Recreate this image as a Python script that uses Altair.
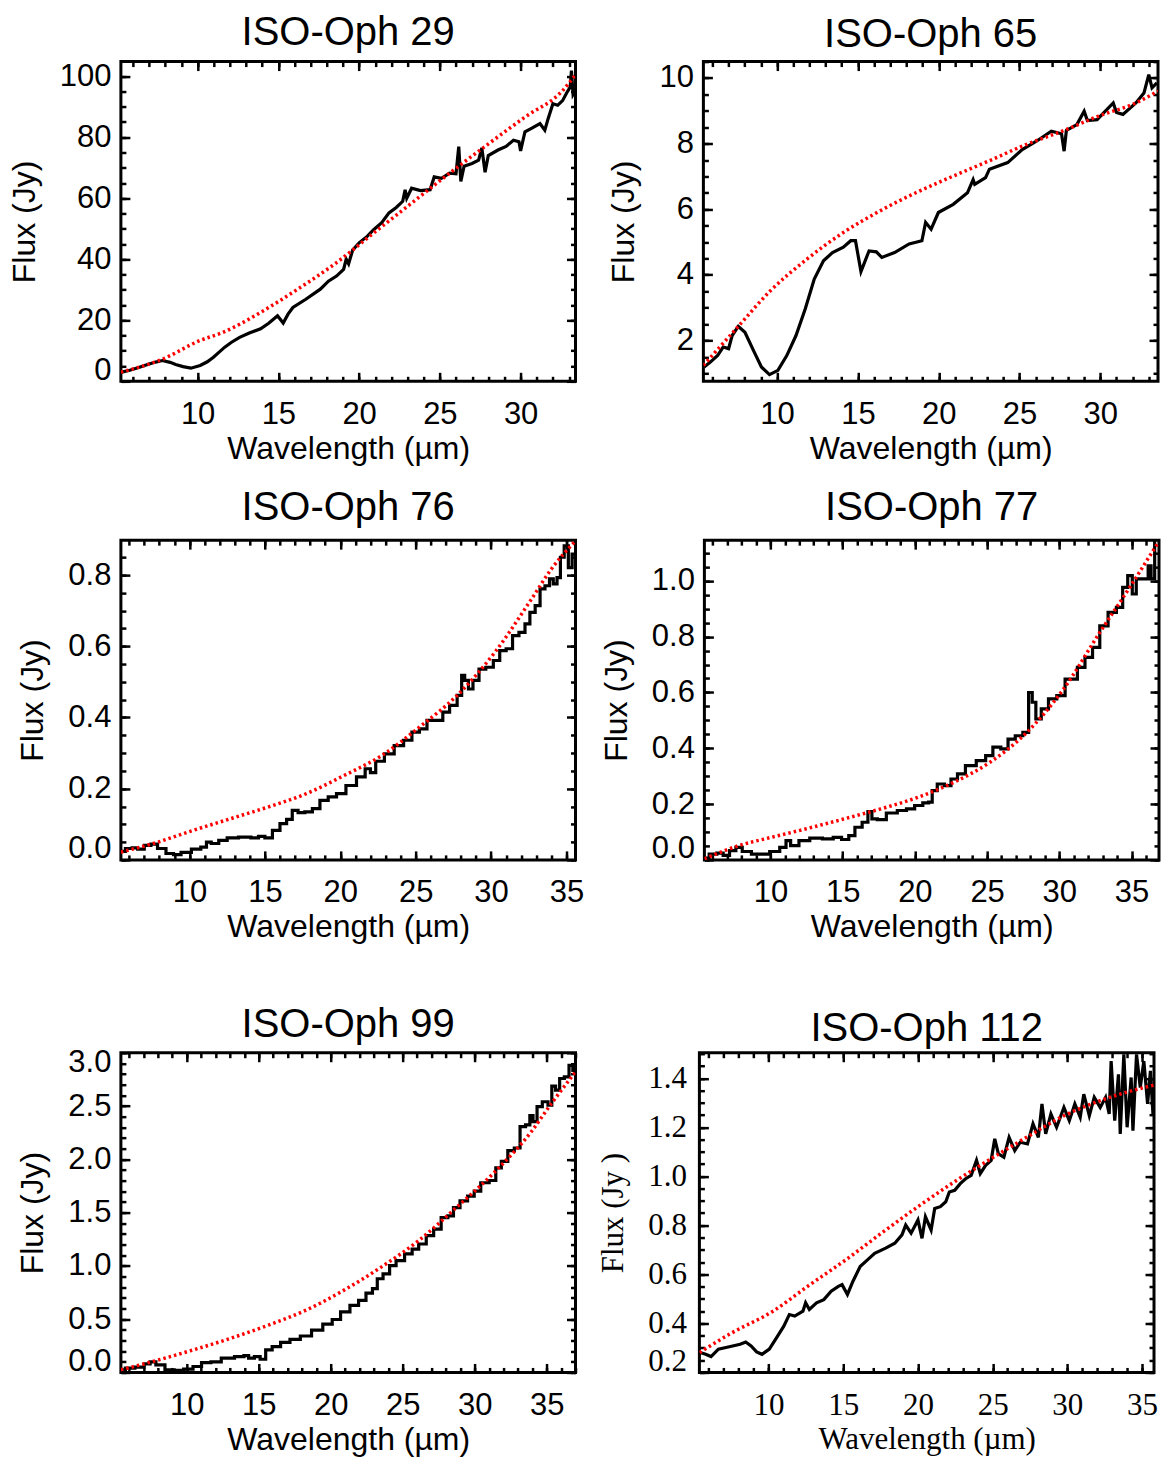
import altair as alt
import pandas as pd

SANS = "Liberation Sans"
SERIF = "Liberation Serif"

# ---------------- ISO-Oph 29 ----------------
oph29_wave = [5.30, 5.8, 6.4, 6.9, 7.4, 7.82, 8.3, 8.64, 9.1, 9.58, 10.16, 10.6, 10.98, 11.3, 11.68,
              12.1, 12.6, 13.2, 13.9, 14.4, 14.84, 14.95, 15.3, 15.6, 15.9, 16.7, 17.6, 18.1, 18.6,
              19.04, 19.2, 19.35, 19.6, 20.0, 20.5, 20.9, 21.4, 21.85, 22.3, 22.7, 22.85, 22.95,
              23.25, 23.8, 24.4, 24.65, 25.1, 25.6, 26.0, 26.17, 26.3, 26.5, 26.99, 27.4, 27.6,
              27.8, 28.0, 28.6, 29.1, 29.56, 29.9, 30.0, 30.27, 30.7, 31.2, 31.5, 31.7, 32.0,
              32.3, 32.6, 32.85, 33.07, 33.15, 33.25, 33.4]
oph29_flux = [3.0, 3.6, 4.6, 5.5, 6.3, 6.8, 6.2, 5.5, 4.8, 4.3, 5.2, 6.4, 7.9, 9.4, 11.2,
              12.8, 14.4, 15.8, 17.2, 19.0, 21.0, 21.5, 19.1, 22.0, 24.2, 26.9, 30.2, 32.8, 34.5,
              36.7, 40.0, 38.5, 43.0, 45.4, 47.5, 49.7, 52.0, 55.2, 57.0, 59.0, 62.8, 60.0,
              63.3, 62.5, 62.8, 67.0, 66.5, 68.2, 68.0, 76.9, 65.5, 70.5, 71.4, 72.5, 76.5,
              68.5, 74.0, 75.8, 77.0, 79.0, 78.5, 75.5, 81.8, 83.0, 84.5, 82.3, 86.0, 91.0,
              90.5, 92.0, 94.5, 96.4, 101.8, 94.0, 95.3]
oph29_cont_wave = [5.25, 7.8, 10.16, 11.6, 13.9, 16.2, 18.6, 20.9, 23.25, 25.6, 27.9, 30.27, 32.6, 33.4]
oph29_cont_flux = [3.0, 7.2, 13.4, 16.1, 22.6, 30.2, 38.9, 48.6, 58.4, 68.2, 77.4, 86.6, 95.3, 100.5]

# ---------------- ISO-Oph 65 ----------------
oph65_wave = [5.49, 5.87, 6.32, 6.66, 7.0, 7.22, 7.6, 8.01, 8.58, 9.03, 9.53, 10.05, 10.6, 11.17,
              11.74, 12.3, 12.87, 13.43, 14.1, 14.56, 14.85, 15.19, 15.69, 16.14, 16.48, 17.27,
              18.17, 18.96, 19.19, 19.53, 19.98, 20.9, 21.78, 22.13, 22.23, 22.9, 23.14, 24.27,
              25.17, 26.07, 26.97, 27.6, 27.76, 27.9, 28.55, 29.0, 29.2, 29.8, 30.8, 31.0, 31.4,
              32.2, 32.7, 33.0, 33.2, 33.5]
oph65_flux = [1.19, 1.34, 1.54, 1.80, 1.75, 2.15, 2.43, 2.25, 1.65, 1.19, 0.96, 1.09, 1.54, 2.15,
              2.96, 3.87, 4.43, 4.68, 4.84, 5.04, 5.04, 4.10, 4.73, 4.70, 4.53, 4.68,
              4.94, 5.04, 5.60, 5.39, 5.90, 6.15, 6.50, 6.90, 6.76, 6.96, 7.22, 7.42,
              7.82, 8.08, 8.38, 8.30, 7.77, 8.40, 8.58, 8.99, 8.70, 8.73, 9.24, 8.95, 8.89,
              9.24, 9.54, 10.10, 9.70, 9.85]
oph65_cont_wave = [5.44, 7.6, 9.6, 11.85, 14.1, 16.37, 18.62, 20.9, 23.1, 25.4, 27.65, 29.9, 32.2, 33.57]
oph65_cont_flux = [1.24, 2.43, 3.52, 4.48, 5.29, 5.95, 6.51, 7.01, 7.47, 7.97, 8.38, 8.84, 9.24, 9.60]

# ---------------- ISO-Oph 76 ----------------
oph76_wave = [5.5, 6.0, 6.38, 6.75, 7.25, 7.63, 8.13, 8.75, 9.13, 9.75, 10.5, 11.0, 11.25, 11.63,
              12.25, 12.75, 13.75, 14.4, 14.75, 15.25, 15.75, 16.25, 16.63, 17.0, 17.4, 17.9,
              18.4, 18.9, 19.5, 20.0, 20.75, 21.4, 21.9, 22.1, 22.6, 23.25, 23.9, 24.5, 25.0,
              25.5, 26.0, 26.6, 27.0, 27.5, 28.0, 28.1, 28.4, 28.6, 29.0, 29.4, 29.9, 30.4,
              30.75, 31.25, 31.6, 32.1, 32.4, 32.75, 33.1, 33.4, 33.75, 34.0, 34.25, 34.5,
              34.7, 35.0, 35.25, 35.5]
oph76_flux = [0.024, 0.032, 0.034, 0.030, 0.041, 0.044, 0.032, 0.018, 0.015, 0.021, 0.030, 0.036,
              0.050, 0.046, 0.055, 0.062, 0.064, 0.062, 0.066, 0.062, 0.083, 0.102, 0.114, 0.139,
              0.133, 0.135, 0.144, 0.167, 0.177, 0.186, 0.209, 0.233, 0.256, 0.245, 0.277, 0.298,
              0.321, 0.336, 0.359, 0.368, 0.392, 0.392, 0.415, 0.434, 0.462, 0.518, 0.504, 0.480,
              0.504, 0.536, 0.541, 0.560, 0.588, 0.593, 0.630, 0.639, 0.663, 0.695, 0.714, 0.761,
              0.770, 0.789, 0.775, 0.793, 0.850, 0.882, 0.821, 0.859]
oph76_cont_wave = [5.45, 7.6, 10.25, 12.75, 15.25, 17.75, 20.25, 22.75, 25.25, 27.75, 30.25, 32.75, 34.0, 35.6]
oph76_cont_flux = [0.022, 0.046, 0.083, 0.116, 0.149, 0.186, 0.237, 0.293, 0.373, 0.462, 0.583, 0.737, 0.817, 0.896]

# ---------------- ISO-Oph 77 ----------------
oph77_wave = [5.48, 6.04, 6.54, 6.92, 7.42, 7.8, 8.3, 9.07, 9.57, 10.33, 10.96, 11.2, 11.6, 12.35,
              13.1, 14.1, 14.6, 15.25, 15.6, 16.1, 16.6, 16.9, 17.15, 17.65, 18.4, 19.17, 19.67,
              20.3, 20.8, 21.1, 21.3, 21.8, 22.3, 22.7, 23.2, 23.8, 24.7, 25.1, 25.7, 26.2, 26.7,
              27.2, 27.75, 28.0, 28.25, 28.5, 29.0, 29.5, 30.15, 30.65, 31.0, 31.5, 32.05, 32.55,
              33.05, 33.7, 34.2, 34.57, 34.9, 35.2, 35.45, 36.1, 36.2, 36.5, 36.7]
oph77_flux = [0.006, 0.021, 0.024, 0.016, 0.033, 0.045, 0.030, 0.021, 0.021, 0.030, 0.045, 0.069,
              0.051, 0.069, 0.078, 0.075, 0.081, 0.073, 0.087, 0.117, 0.135, 0.173, 0.147, 0.144,
              0.168, 0.177, 0.183, 0.195, 0.204, 0.207, 0.248, 0.272, 0.266, 0.290, 0.308, 0.338,
              0.356, 0.374, 0.404, 0.398, 0.433, 0.445, 0.457, 0.600, 0.565, 0.505, 0.541, 0.577,
              0.589, 0.648, 0.648, 0.690, 0.726, 0.762, 0.839, 0.887, 0.905, 0.977, 1.019, 0.953,
              1.007, 1.007, 1.054, 1.007, 1.138]
oph77_cont_wave = [5.43, 7.8, 10.08, 12.6, 15.1, 17.65, 20.2, 22.7, 25.2, 27.75, 30.3, 32.8, 34.8, 36.85]
oph77_cont_flux = [0.004, 0.051, 0.081, 0.113, 0.147, 0.183, 0.224, 0.278, 0.350, 0.457, 0.613, 0.815, 0.971, 1.138]

# ---------------- ISO-Oph 99 ----------------
oph99_wave = [5.48, 6.0, 6.8, 7.3, 7.62, 8.1, 8.88, 9.4, 10.18, 10.7, 11.36, 12.0, 12.8, 13.84,
              14.1, 14.5, 14.9, 15.3, 15.67, 16.2, 16.84, 17.5, 18.28, 19.06, 19.84, 20.37, 21.0,
              21.67, 22.2, 22.7, 23.1, 23.37, 23.9, 24.28, 24.8, 25.46, 25.85, 26.37, 26.9, 27.4,
              27.94, 28.33, 28.72, 29.24, 29.77, 30.16, 30.68, 31.33, 31.6, 32.1, 32.5, 33.0,
              33.3, 33.76, 33.9, 34.2, 34.46, 34.93, 35.25, 35.46, 35.77, 36.03, 36.42, 36.68, 36.95]
oph99_flux = [0.025, 0.04, 0.05, 0.081, 0.10, 0.071, 0.025, 0.019, 0.031, 0.056, 0.093, 0.10, 0.134,
              0.149, 0.158, 0.134, 0.149, 0.124, 0.211, 0.242, 0.283, 0.311, 0.342, 0.398, 0.453,
              0.497, 0.568, 0.630, 0.677, 0.745, 0.786, 0.879, 0.925, 1.003, 1.050, 1.112, 1.158,
              1.205, 1.283, 1.345, 1.453, 1.469, 1.547, 1.609, 1.655, 1.702, 1.780, 1.801, 1.919,
              1.981, 2.081, 2.106, 2.307, 2.323, 2.41, 2.354, 2.494, 2.540, 2.509, 2.686, 2.649,
              2.758, 2.773, 2.882, 2.835]
oph99_cont_wave = [5.43, 7.57, 10.44, 13.05, 15.67, 18.28, 20.9, 23.5, 26.1, 28.72, 31.33, 33.94, 35.25, 37.0]
oph99_cont_flux = [0.025, 0.10, 0.211, 0.32, 0.444, 0.584, 0.77, 0.988, 1.236, 1.547, 1.873, 2.261, 2.509, 2.82]

# ---------------- ISO-Oph 112 ----------------
oph112_wave = [5.42, 5.79, 6.15, 6.64, 7.37, 8.1, 8.47, 8.83, 9.2, 9.56, 10.05, 10.54, 11.02, 11.39,
               11.75, 12.3, 12.48, 12.73, 13.21, 13.7, 14.19, 14.67, 14.92, 15.28, 15.65, 16.13,
               16.62, 17.1, 17.84, 18.45, 18.93, 19.18, 19.54, 20.0, 20.27, 20.5, 20.88, 21.12,
               21.5, 21.86, 22.1, 22.46, 22.83, 23.19, 23.56, 23.92, 24.17, 24.53, 24.9, 25.14,
               25.38, 25.75, 26.1, 26.48, 26.85, 27.33, 27.7, 28.06, 28.3, 28.55, 28.9, 29.28,
               29.77, 30.13, 30.5, 30.86, 31.1, 31.47, 31.8, 32.2, 32.56, 32.8, 32.93, 33.17,
               33.42, 33.54, 33.78, 34.0, 34.27, 34.39, 34.63, 34.88, 35.12, 35.37, 35.56, 35.73]
oph112_flux = [0.281, 0.274, 0.265, 0.295, 0.305, 0.315, 0.324, 0.308, 0.284, 0.274, 0.295, 0.342,
               0.389, 0.436, 0.430, 0.450, 0.484, 0.457, 0.484, 0.497, 0.531, 0.551, 0.558, 0.518,
               0.572, 0.632, 0.659, 0.686, 0.707, 0.727, 0.761, 0.801, 0.768, 0.822, 0.747, 0.835,
               0.781, 0.869, 0.876, 0.896, 0.936, 0.943, 0.970, 0.990, 1.004, 1.065, 1.011, 1.045,
               1.065, 1.153, 1.092, 1.078, 1.159, 1.105, 1.139, 1.132, 1.214, 1.159, 1.295, 1.173,
               1.254, 1.200, 1.281, 1.227, 1.295, 1.241, 1.335, 1.247, 1.322, 1.281, 1.322, 1.254,
               1.470, 1.227, 1.416, 1.173, 1.497, 1.200, 1.403, 1.186, 1.497, 1.362, 1.470, 1.295,
               1.430, 1.254]
oph112_cont_wave = [5.37, 7.5, 10.3, 12.7, 15.16, 17.6, 20.0, 22.5, 24.9, 27.3, 29.77, 32.5, 35.8]
oph112_cont_flux = [0.281, 0.36, 0.45, 0.555, 0.659, 0.77, 0.876, 0.98, 1.072, 1.16, 1.247, 1.315, 1.372]

XMAJ_A = [10, 15, 20, 25, 30]
XMAJ_B = [10, 15, 20, 25, 30, 35]
XMIN = list(range(5, 38))


def axis(orient, values, size, labels=False, fmt=None, font=SANS, lsize=31, tsize=32,
         lpad=10, tpad=18, flush=False):
    kw = dict(orient=orient, values=values, tickSize=size, tickWidth=2.5, tickColor="black",
              offset=-size, domain=False, grid=False, labels=labels, ticks=True)
    if labels:
        kw.update(format=fmt, labelFont=font, labelFontSize=lsize, labelColor="black",
                  labelPadding=lpad, labelOverlap=False, labelFlush=flush,
                  titleFont=font, titleFontSize=tsize, titleFontWeight="normal",
                  titleColor="black", titlePadding=tpad)
        if flush:
            kw.update(labelFlushOffset=5)
    return alt.Axis(**kw)


def frange(a, b, step):
    out = []
    k = 0
    while a + k * step <= b + 1e-9:
        out.append(round(a + k * step, 4))
        k += 1
    return out


def panel(name, sw, sf, cw, cf, xdom, ydom, xmaj, ymaj, ymin, yfmt, font=SANS,
          step=False, toff=14, ytitle="Flux (Jy)", lsize=31, tsize=32, ylpad=10):
    spec = pd.DataFrame({"wave": sw, "flux": sf})
    cont = pd.DataFrame({"wave": cw, "flux": cf})
    xs = alt.Scale(domain=xdom, nice=False, zero=False)
    ys = alt.Scale(domain=ydom, nice=False, zero=False)
    xminor = [v for v in XMIN if xdom[0] <= v <= xdom[1]]
    yminor = [v for v in ymin if ydom[0] <= v <= ydom[1]]

    l1 = alt.Chart(spec).mark_line(
        color="black", strokeWidth=3.2, clip=True,
        interpolate=("step" if step else "linear")
    ).encode(
        x=alt.X("wave:Q", scale=xs, title="Wavelength (µm)",
                axis=axis("bottom", xmaj, 9, True, "d", font, lsize, tsize, 18, 4)),
        y=alt.Y("flux:Q", scale=ys, title=ytitle,
                axis=axis("left", ymaj, 9, True, yfmt, font, lsize, tsize, ylpad, 18, True)),
    )
    l2 = alt.Chart(cont).mark_line(
        color="#ff0000", strokeWidth=3.5, strokeDash=[2.5, 3], clip=True, interpolate="monotone"
    ).encode(
        x=alt.X("wave:Q", scale=xs, title=None, axis=axis("top", xmaj, 9)),
        y=alt.Y("flux:Q", scale=ys, title=None, axis=axis("right", ymaj, 9)),
    )
    l3 = alt.Chart(cont).mark_line(opacity=0, clip=True).encode(
        x=alt.X("wave:Q", scale=xs, title=None, axis=axis("bottom", xminor, 5)),
        y=alt.Y("flux:Q", scale=ys, title=None, axis=axis("left", yminor, 5)),
    )
    l4 = alt.Chart(cont).mark_line(opacity=0, clip=True).encode(
        x=alt.X("wave:Q", scale=xs, title=None, axis=axis("top", xminor, 5)),
        y=alt.Y("flux:Q", scale=ys, title=None, axis=axis("right", yminor, 5)),
    )
    return alt.layer(l1, l2, l3, l4).resolve_axis(
        x="independent", y="independent"
    ).properties(
        width=455, height=320,
        title=alt.Title(name, font=SANS, fontSize=40, fontWeight="normal", color="black",
                        anchor="middle", frame="group", offset=toff, baseline="alphabetic"),
    )


p1 = panel("ISO-Oph 29", oph29_wave, oph29_flux, oph29_cont_wave, oph29_cont_flux,
           [5.25, 33.4], [0, 104.8], XMAJ_A, [0, 20, 40, 60, 80, 100], frange(0, 105, 5), "d", toff=-25)
p2 = panel("ISO-Oph 65", oph65_wave, oph65_flux, oph65_cont_wave, oph65_cont_flux,
           [5.44, 33.57], [0.755, 10.5], XMAJ_A, [2, 4, 6, 8, 10], frange(0.5, 10.5, 0.5), "d", toff=-27)
p3 = panel("ISO-Oph 76", oph76_wave, oph76_flux, oph76_cont_wave, oph76_cont_flux,
           [5.45, 35.6], [0, 0.898], XMAJ_B, frange(0, 0.8, 0.2), frange(0, 0.9, 0.05), ".1f",
           step=True, toff=-21)
p4 = panel("ISO-Oph 77", oph77_wave, oph77_flux, oph77_cont_wave, oph77_cont_flux,
           [5.43, 36.9], [0, 1.146], XMAJ_B, frange(0, 1.0, 0.2), frange(0, 1.15, 0.05), ".1f",
           step=True, toff=-21)
p5 = panel("ISO-Oph 99", oph99_wave, oph99_flux, oph99_cont_wave, oph99_cont_flux,
           [5.43, 37.0], [0, 3.0], XMAJ_B, frange(0, 3.0, 0.5), frange(0, 3.0, 0.1), ".1f",
           step=True, toff=-30)
p6 = panel("ISO-Oph 112", oph112_wave, oph112_flux, oph112_cont_wave, oph112_cont_flux,
           [5.37, 35.8], [0.2, 1.504], XMAJ_B, frange(0.2, 1.4, 0.2), frange(0.2, 1.5, 0.05), ".1f",
           font=SERIF, toff=-30, ytitle="Flux (Jy )", lsize=31, tsize=31, ylpad=13)

row1 = alt.hconcat(p1, p2, spacing=28)
row2 = alt.hconcat(p3, p4, spacing=13)
row3 = alt.hconcat(p5, p6, spacing=17)

top_two = alt.concat(row1, row2, columns=1, spacing=20)
chart = alt.concat(top_two, row3, columns=1, spacing=58).configure_view(
    stroke="black", strokeWidth=3
).properties(
    padding={"left": 6, "top": 11, "right": 0, "bottom": 0},
    background="white",
)

chart.save("out.html", embed_options={"renderer": "svg", "actions": False})
